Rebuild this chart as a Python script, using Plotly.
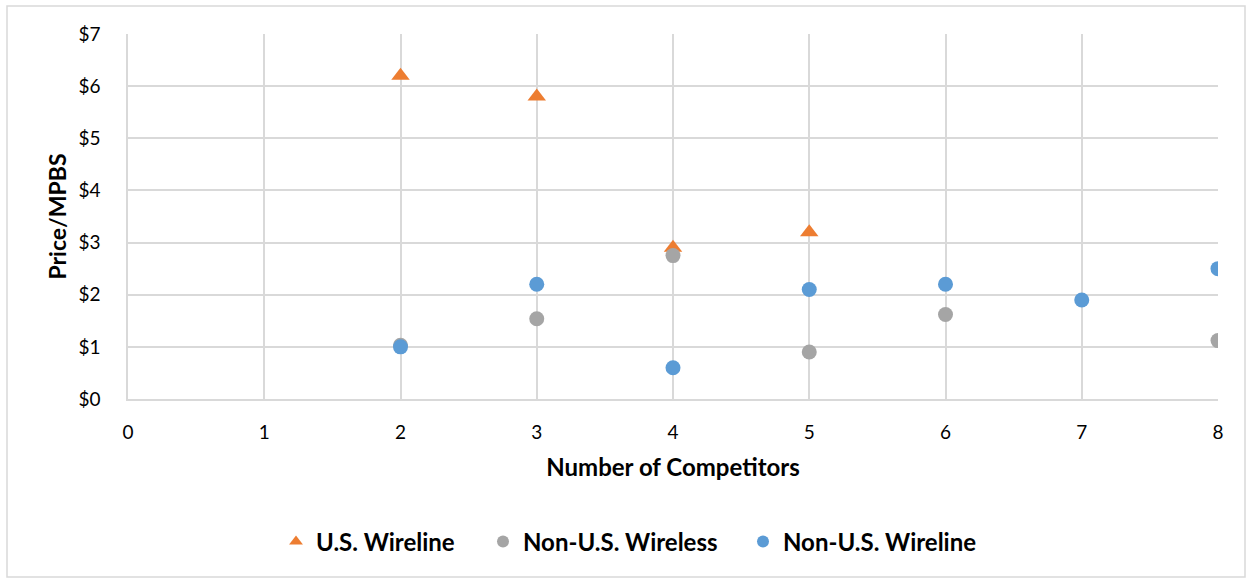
import plotly.graph_objects as go

us_wireline_x = [2, 3, 4, 5]
us_wireline_y = [6.2, 5.8, 2.9, 3.2]

non_us_wireless_x = [2, 3, 4, 5, 6, 8]
non_us_wireless_y = [1.03, 1.54, 2.75, 0.9, 1.62, 1.12]

non_us_wireline_x = [2, 3, 4, 5, 6, 7, 8]
non_us_wireline_y = [1.0, 2.2, 0.6, 2.1, 2.2, 1.9, 2.5]

y_tickvals = [0, 1, 2, 3, 4, 5, 6, 7]
y_ticktext = ["$0", "$1", "$2", "$3", "$4", "$5", "$6", "$7"]
x_tickvals = [0, 1, 2, 3, 4, 5, 6, 7, 8]

FONT = "Lato"

fig = go.Figure()
fig.add_trace(go.Scatter(x=us_wireline_x, y=us_wireline_y, mode="markers", name="U.S. Wireline",
                         legend="legend",
                         marker=dict(symbol="triangle-up", size=16, color="#ED7D31")))
fig.add_trace(go.Scatter(x=non_us_wireless_x, y=non_us_wireless_y, mode="markers", name="Non-U.S. Wireless",
                         legend="legend2",
                         marker=dict(symbol="circle", size=15, color="#A5A5A5")))
fig.add_trace(go.Scatter(x=non_us_wireline_x, y=non_us_wireline_y, mode="markers", name="Non-U.S. Wireline",
                         legend="legend3",
                         marker=dict(symbol="circle", size=15, color="#5B9BD5")))

L, R, T, B = 128, 34, 34, 182
W, H = 1252, 581
pw, ph = W - L - R, H - T - B


def leg(px):
    return dict(orientation="h", x=(px - L) / pw, xanchor="left", y=(399 - 542) / ph, yanchor="middle",
                font=dict(family=FONT, size=24, color="#000000", weight="bold"),
                itemsizing="constant", bgcolor="rgba(0,0,0,0)")


fig.update_layout(
    width=W, height=H,
    margin=dict(l=L, r=R, t=T, b=B),
    paper_bgcolor="white", plot_bgcolor="white",
    font=dict(family=FONT, size=19, color="#000000"),
    showlegend=True,
    legend=leg(298 - 22),
    legend2=leg(505 - 22),
    legend3=leg(765 - 22),
    xaxis=dict(range=[0, 8], tickvals=x_tickvals, showgrid=True, gridcolor="#D9D9D9", gridwidth=1.5,
               zeroline=False, showline=True, linecolor="#D9D9D9", linewidth=1.5, mirror=False,
               ticks="", ticklabelstandoff=15, tickfont=dict(size=19),
               title=dict(text="<b>Number of Competitors</b>", font=dict(size=24), standoff=18)),
    yaxis=dict(range=[0, 7], tickvals=y_tickvals, ticktext=y_ticktext, showgrid=True, gridcolor="#D9D9D9",
               gridwidth=1.5, zeroline=False, showline=True, linecolor="#D9D9D9", linewidth=1.5,
               ticks="", ticklabelstandoff=22, tickfont=dict(size=19),
               title=dict(text="<b>Price/MPBS</b>", font=dict(size=23), standoff=5)),
    shapes=[dict(type="rect", xref="paper", yref="paper",
                 x0=(7 - L) / pw, x1=(1245 - L) / pw,
                 y0=(399 - 577) / ph, y1=(399 - 6) / ph,
                 line=dict(color="#D9D9D9", width=1.5), fillcolor="rgba(0,0,0,0)", layer="below")],
)

fig.write_html("out.html")
